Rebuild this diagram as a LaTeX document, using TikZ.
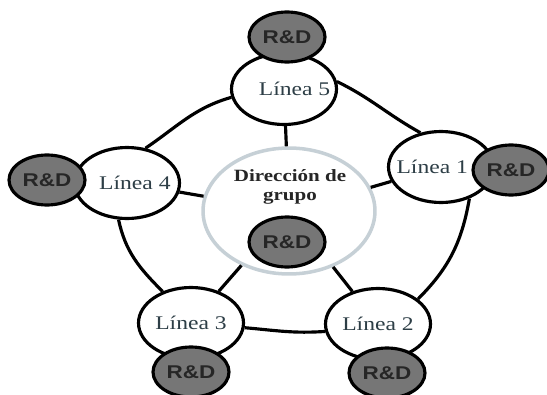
\documentclass[tikz,border=0pt]{standalone}
\usepackage{fontspec}
\setmainfont[FakeStretch=1.22]{Liberation Serif}
\setsansfont[FakeStretch=1.22]{Liberation Sans}
\usetikzlibrary{shapes.geometric}
\definecolor{rdgray}{RGB}{118,118,118}
\definecolor{lineatext}{RGB}{45,62,70}
\definecolor{dirring}{RGB}{198,208,214}
\tikzset{
  linea/.style={ellipse,draw,line width=1.8pt,fill=white,inner sep=0pt,
    minimum width=2.1cm,minimum height=1.42cm,text=lineatext,
    font=\fontsize{11}{13}\selectfont},
  rd/.style={ellipse,draw,line width=1.8pt,fill=rdgray,inner sep=0pt,
    minimum width=1.52cm,minimum height=1cm,text=black!85,
    font=\sffamily\bfseries\fontsize{10.5}{12}\selectfont},
  ring/.style={line width=1.8pt},
}
\begin{document}
\begin{tikzpicture}[x=0.02cm,y=-0.02cm]
  \useasboundingbox (0,0) rectangle (547,395);
  \node[ellipse,draw=dirring,line width=2pt,fill=white,inner sep=0pt,
    minimum width=3.44cm,minimum height=2.52cm] (dir) at (289,211) {};
  \node[align=center,font=\bfseries\fontsize{9.8}{10.5}\selectfont,text=black!85]
    (dirtxt) at (290,187) {Dirección de\\grupo};
  \node[linea] (l5) at (284,89) {\makebox[0pt]{\hspace*{12pt}Línea 5}};
  \node[linea] (l4) at (127,183) {\makebox[0pt]{\hspace*{9pt}Línea 4}};
  \node[linea] (l3) at (191,323) {Línea 3};
  \node[linea] (l2) at (378,324) {Línea 2};
  \node[linea] (l1) at (441,167) {\makebox[0pt]{Línea 1\hspace*{10pt}}};
  \node[rd] (rd5) at (287,37) {R\&D};
  \node[rd] (rd4) at (47,180) {R\&D};
  \node[rd] (rd3) at (191,372) {R\&D};
  \node[rd] (rd2) at (387,373) {R\&D};
  \node[rd] (rd1) at (511,170) {R\&D};
  \node[rd] (rdc) at (287,242) {R\&D};
  % spokes
  \draw[ring] (dir) -- (l5);
  \draw[ring] (dir) -- (l4);
  \draw[ring] (dir) -- (l3);
  \draw[ring] (dir) -- (l2);
  \draw[ring] (dir) -- (l1);
  % outer ring
  \draw[ring] (l5.189) to[out=196,in=34] (l4.62);
  \draw[ring] (l4.257) to[out=-78,in=135] (l3.132);
  \draw[ring] (l3.-5) to[out=-5,in=184] (l2.188);
  \draw[ring] (l2.32) to[out=45,in=260] (l1.-48);
  \draw[ring] (l1.121) to[out=151,in=-26] (l5.8);
\end{tikzpicture}
\end{document}
